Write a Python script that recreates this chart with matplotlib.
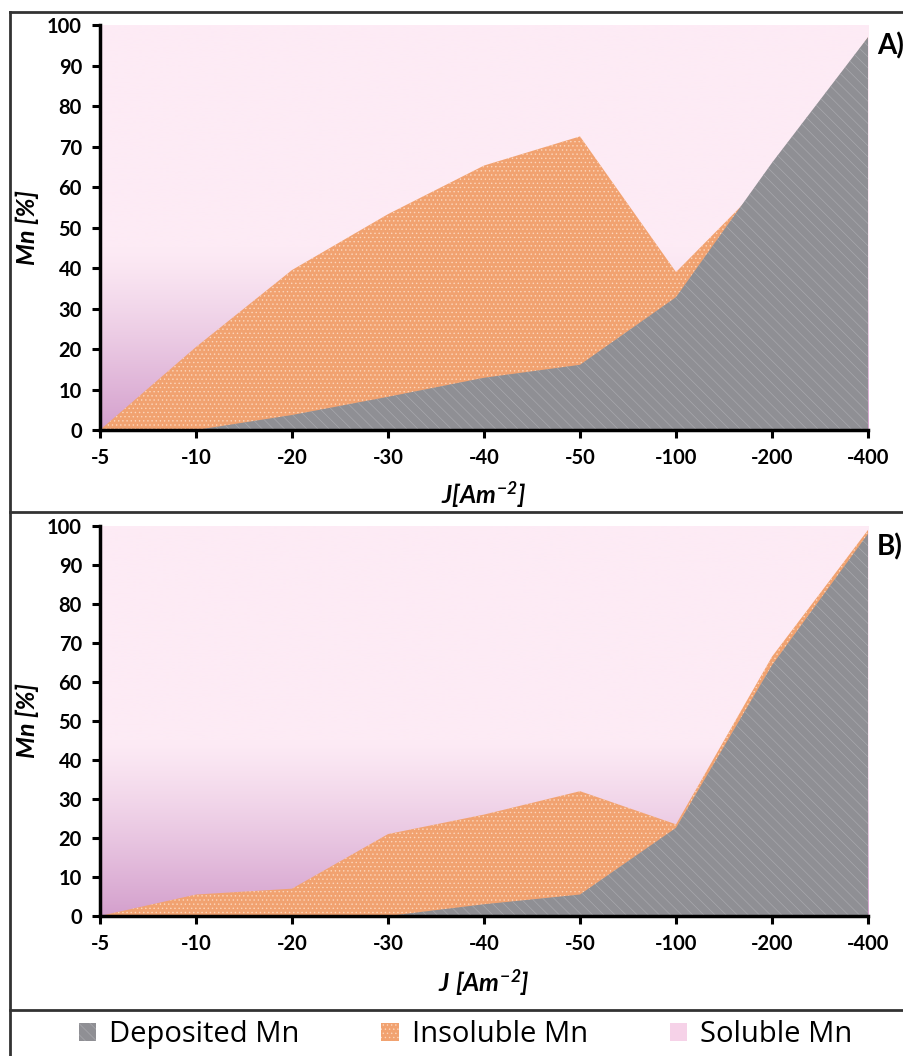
import numpy as np
import matplotlib
matplotlib.use("Agg")
import matplotlib.pyplot as plt
from matplotlib.patches import Patch
from matplotlib.lines import Line2D

plt.rcParams['font.family'] = ['Lato', 'DejaVu Sans']
plt.rcParams['mathtext.fontset'] = 'custom'
plt.rcParams['mathtext.it'] = 'Lato:bold:italic'
plt.rcParams['mathtext.rm'] = 'Lato:bold:italic'
plt.rcParams['mathtext.bf'] = 'Lato:bold:italic'
plt.rcParams['hatch.linewidth'] = 0.5

# ---- data ----
categories = ['-5', '-10', '-20', '-30', '-40', '-50', '-100', '-200', '-400']
# Panel A
deposited_A = [0, 0, 3.7, 8.2, 12.9, 16.1, 32.8, 66, 97]
total_A = [0, 20.5, 39.5, 53.3, 65.3, 72.5, 39, 63, 97]      # deposited + insoluble
# Panel B
deposited_B = [0, 0, 0, 0, 3, 5.5, 22.6, 64.3, 98]
total_B = [0, 5.5, 7, 21, 26, 32, 23.5, 66.5, 99]
yticks = list(range(0, 101, 10))
legend_labels = ['Deposited Mn', 'Insoluble Mn', 'Soluble Mn']

# ---- styles ----
grey_face, grey_hatch = '#8f8f94', '#a8a8ad'
orange_face, orange_hatch = '#f1a270', '#fcd6bb'
pink_top = np.array([0xfd, 0xeb, 0xf5]) / 255
pink_bot = np.array([0xd4, 0xa0, 0xcd]) / 255

fig = plt.figure(figsize=(9.04, 10.56), dpi=100)

def gradient():
    v = np.linspace(100, 0, 256)
    t = np.clip((45 - v) / 45, 0, 1) ** 1.2
    cols = pink_top[None, :] * (1 - t[:, None]) + pink_bot[None, :] * t[:, None]
    return cols[:, None, :]

def panel(rect, dep, tot, xlabel, xlab_y, tag, tagy):
    ax = fig.add_axes(rect)
    x = np.arange(len(categories))
    ax.imshow(gradient(), extent=(0, len(categories) - 1, 0, 100), aspect='auto', zorder=0,
              interpolation='bilinear')
    ax.fill_between(x, 0, tot, facecolor=orange_face, edgecolor=orange_hatch, hatch='....',
                    linewidth=0, zorder=1)
    ax.fill_between(x, 0, dep, facecolor=grey_face, edgecolor=grey_hatch, hatch='\\\\\\',
                    linewidth=0, zorder=2)
    ax.set_xlim(0, len(categories) - 1)
    ax.set_ylim(0, 100)
    ax.set_xticks(x)
    ax.set_xticklabels(categories)
    ax.set_yticks(yticks)
    for s in ['top', 'right']:
        ax.spines[s].set_visible(False)
    for s in ['left', 'bottom']:
        ax.spines[s].set_linewidth(2.5)
        ax.spines[s].set_zorder(5)
    ax.tick_params(direction='out', length=6, width=2.2, labelsize=14.5, pad=7)
    for lbl in ax.get_xticklabels() + ax.get_yticklabels():
        lbl.set_fontweight('bold')
    ax.set_ylabel('Mn [%]', fontsize=18, fontweight='bold', fontstyle='italic', labelpad=6)
    ax.set_xlabel(xlabel, fontsize=18, va='center')
    ax.xaxis.set_label_coords(0.5, xlab_y)
    fig.text(0.970, tagy, tag, fontsize=20, fontweight='bold', ha='left', va='center')
    return ax

panel([0.1106, 0.5928, 0.8496, 0.3835], deposited_A, total_A, r'$J[Am^{-2}]$', -0.16, 'A)', 0.957)
panel([0.1106, 0.1326, 0.8496, 0.3693], deposited_B, total_B, r'$J\ [Am^{-2}]$', -0.172, 'B)', 0.482)

# frame lines
lc = '#333333'
for y in [0.9886, 0.5152, 0.0436]:
    fig.add_artist(Line2D([0.011, 1.0], [y, y], color=lc, lw=2, transform=fig.transFigure))
fig.add_artist(Line2D([0.011, 0.011], [0.0, 0.9886], color=lc, lw=2, transform=fig.transFigure))

handles = [Patch(facecolor=grey_face, edgecolor=grey_hatch, hatch='\\\\\\', lw=0),
           Patch(facecolor=orange_face, edgecolor=orange_hatch, hatch='....', lw=0),
           Patch(facecolor='#f6d2e8', edgecolor='none', lw=0)]
fig.legend(handles, legend_labels, loc='center', bbox_to_anchor=(0.515, 0.0199), ncol=3,
           frameon=False, prop={'family': 'Open Sans', 'size': 21}, handlelength=0.6,
           handleheight=0.6, handletextpad=0.45, columnspacing=2.8)

fig.savefig('out.png', dpi=100)
